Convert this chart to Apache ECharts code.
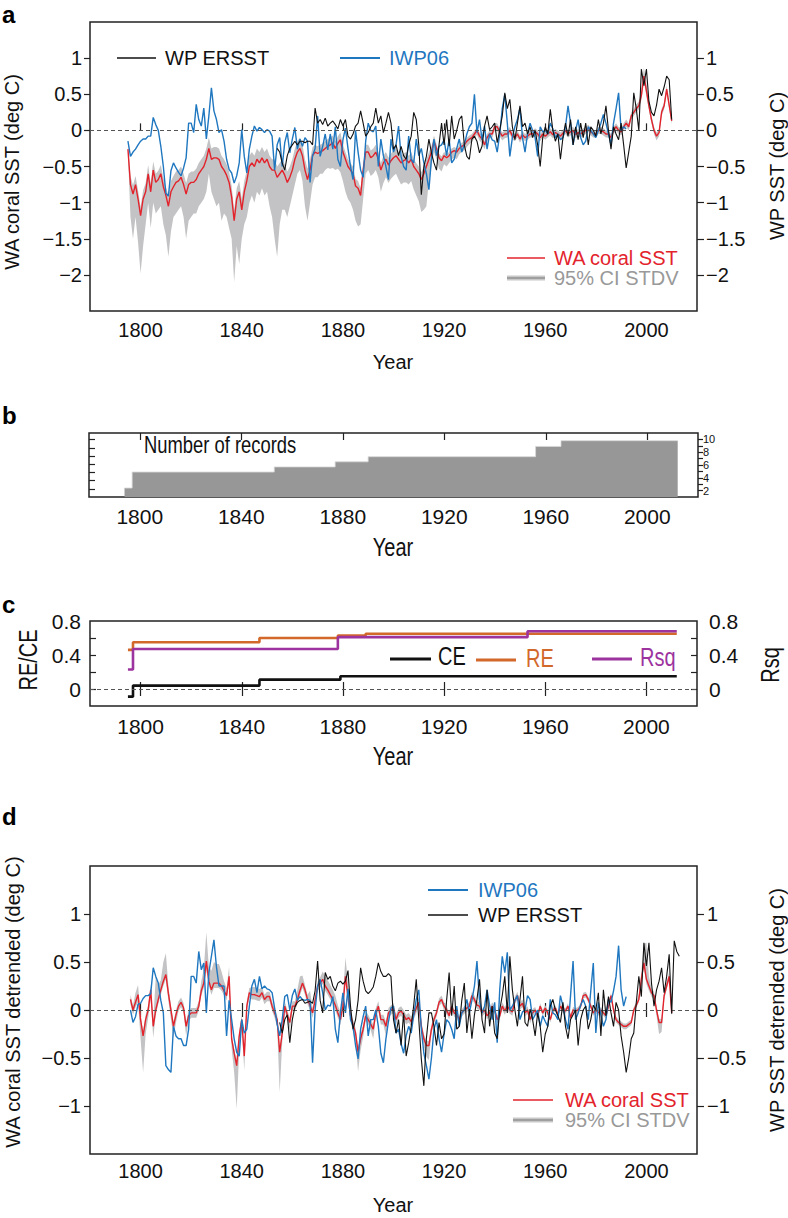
<!DOCTYPE html>
<html><head><meta charset="utf-8">
<script src="https://cdn.jsdelivr.net/npm/echarts@6/dist/echarts.min.js"></script>
<style>html,body{margin:0;padding:0;background:#fff}#c{width:788px;height:1218px}</style>
</head><body><div id="c"></div><script>
// ---------------- DATA ----------------
const yearTicks = [1800, 1840, 1880, 1920, 1960, 2000];

// Panel a: WA coral SST (annual, from 1795)
const coralAStart = 1795;
const coralA = [-0.26,-0.75,-0.88,-0.75,-0.95,-1.18,-0.95,-0.85,-0.6,-0.85,
-0.55,-0.72,-0.68,-0.6,-0.78,-0.9,-1.05,-0.85,-0.78,-0.72,
-0.7,-0.65,-0.75,-0.88,-0.75,-0.72,-0.72,-0.68,-0.6,-0.55,
-0.5,-0.4,-0.25,-0.4,-0.38,-0.38,-0.4,-0.5,-0.55,-0.62,
-0.72,-0.92,-1.25,-0.95,-0.85,-1.1,-0.85,-0.7,-0.5,-0.45,
-0.5,-0.4,-0.45,-0.38,-0.45,-0.4,-0.5,-0.55,-0.55,-0.65,
-0.6,-0.55,-0.62,-0.72,-0.65,-0.55,-0.4,-0.3,-0.25,-0.35,
-0.55,-0.68,-0.55,-0.35,-0.3,-0.32,-0.3,-0.28,-0.25,-0.22,
-0.2,-0.17,-0.25,-0.18,-0.13,-0.3,-0.4,-0.5,-0.55,-0.6,
-0.77,-0.8,-0.9,-0.55,-0.3,-0.3,-0.38,-0.35,-0.3,-0.4,
-0.55,-0.45,-0.4,-0.48,-0.42,-0.38,-0.35,-0.4,-0.45,-0.42,
-0.4,-0.45,-0.4,-0.5,-0.55,-0.6,-0.68,-0.6,-0.5,-0.4,
-0.3,-0.15,-0.25,-0.38,-0.42,-0.35,-0.38,-0.35,-0.3,-0.28,
-0.3,-0.25,-0.22,-0.2,-0.15,-0.12,-0.1,-0.05,0.0,-0.08,
-0.12,-0.2,-0.1,-0.05,-0.05,0.05,0.05,-0.02,-0.08,-0.05,
-0.05,0.0,-0.08,-0.1,-0.05,-0.12,-0.06,-0.1,-0.08,-0.05,
-0.05,-0.02,-0.05,-0.1,-0.05,-0.08,-0.05,-0.02,-0.06,-0.03,
-0.05,-0.08,-0.04,0.0,-0.05,-0.02,0.0,-0.06,-0.03,-0.05,
-0.02,0.0,0.03,-0.02,-0.05,-0.05,0.0,0.0,-0.02,-0.05,
-0.05,-0.1,0.0,0.05,0.0,-0.02,0.05,0.1,0.05,0.2,
0.25,0.3,0.34,0.48,0.75,0.55,0.34,0.15,0.0,-0.08,
-0.03,0.25,0.34,0.57,0.35,0.13];
// Panel a: 95% CI distance below / above the coral series
const ciBelowA = [0.05,0.45,0.62,0.45,0.6,0.8,0.65,0.45,0.4,0.5,
0.45,0.43,0.42,0.45,0.52,0.55,0.7,0.55,0.42,0.43,
0.4,0.4,0.45,0.62,0.5,0.48,0.43,0.47,0.45,0.45,
0.45,0.45,0.35,0.45,0.57,0.67,0.6,0.75,0.6,0.58,
0.63,0.58,0.85,0.65,1.0,0.4,0.45,0.5,0.5,0.45,
0.5,0.45,0.45,0.42,0.45,0.45,0.55,0.65,0.95,1.1,
0.7,0.55,0.48,0.48,0.4,0.35,0.35,0.3,0.3,0.35,
0.5,0.57,0.45,0.4,0.35,0.33,0.3,0.32,0.3,0.3,
0.33,0.35,0.3,0.35,0.45,0.4,0.45,0.45,0.45,0.5,
0.48,0.53,0.4,0.4,0.3,0.25,0.25,0.25,0.25,0.25,
0.3,0.28,0.25,0.25,0.25,0.25,0.25,0.28,0.3,0.3,
0.32,0.3,0.3,0.32,0.35,0.38,0.45,0.5,0.55,0.3,
0.2,0.15,0.15,0.15,0.15,0.12,0.12,0.1,0.1,0.1,
0.1,0.08,0.08,0.08,0.08,0.07,0.06,0.06,0.06,0.06,
0.06,0.06,0.06,0.06,0.06,0.06,0.06,0.06,0.06,0.06,
0.05,0.05,0.05,0.05,0.05,0.05,0.05,0.05,0.05,0.05,
0.05,0.05,0.05,0.05,0.05,0.05,0.05,0.05,0.05,0.05,
0.05,0.05,0.05,0.05,0.05,0.05,0.05,0.05,0.05,0.05,
0.05,0.05,0.05,0.05,0.05,0.05,0.05,0.05,0.05,0.05,
0.05,0.05,0.05,0.05,0.05,0.05,0.05,0.05,0.05,0.05,
0.05,0.05,0.05,0.06,0.08,0.08,0.06,0.05,0.05,0.06,
0.05,0.05,0.05,0.06,0.05,0.05];
const ciAboveA = [0.05,0.12,0.12,0.12,0.12,0.12,0.12,0.12,0.12,0.12,
0.12,0.12,0.12,0.12,0.12,0.12,0.15,0.15,0.15,0.15,
0.15,0.15,0.15,0.15,0.15,0.15,0.15,0.15,0.15,0.15,
0.15,0.15,0.15,0.15,0.15,0.15,0.15,0.15,0.15,0.15,
0.15,0.15,0.15,0.15,0.15,0.15,0.15,0.15,0.15,0.15,
0.15,0.15,0.15,0.15,0.15,0.15,0.15,0.15,0.15,0.15,
0.15,0.15,0.15,0.15,0.15,0.15,0.15,0.15,0.15,0.15,
0.15,0.15,0.15,0.12,0.1,0.1,0.1,0.1,0.1,0.1,
0.1,0.1,0.1,0.1,0.1,0.1,0.1,0.1,0.1,0.1,
0.1,0.1,0.1,0.1,0.1,0.1,0.1,0.1,0.1,0.1,
0.1,0.1,0.1,0.1,0.1,0.1,0.1,0.1,0.1,0.1,
0.1,0.1,0.1,0.1,0.1,0.1,0.1,0.1,0.1,0.1,
0.08,0.08,0.06,0.06,0.06,0.05,0.05,0.05,0.05,0.05,
0.05,0.05,0.05,0.05,0.05,0.05,0.05,0.05,0.05,0.05,
0.05,0.05,0.05,0.05,0.05,0.05,0.05,0.05,0.05,0.05,
0.05,0.05,0.05,0.05,0.05,0.05,0.05,0.05,0.05,0.05,
0.05,0.05,0.05,0.05,0.05,0.05,0.05,0.05,0.05,0.05,
0.05,0.05,0.05,0.05,0.05,0.05,0.05,0.05,0.05,0.05,
0.05,0.05,0.05,0.05,0.05,0.05,0.05,0.05,0.05,0.05,
0.05,0.05,0.05,0.05,0.05,0.05,0.05,0.05,0.05,0.05,
0.05,0.06,0.06,0.08,0.12,0.1,0.08,0.06,0.05,0.05,
0.05,0.05,0.05,0.05,0.05,0.05];
// Panel a: IWP06 (from 1795)
const iwpAStart = 1795;
const iwpA = [-0.15,-0.36,-0.3,-0.26,-0.2,-0.15,-0.12,-0.12,-0.08,-0.08,
0.18,0.08,0.0,-0.22,-0.5,-0.87,-0.91,-0.56,-0.45,-0.52,
-0.58,-0.63,-0.52,-0.38,0.1,0.1,-0.03,0.36,0.15,0.06,
0.31,-0.12,0.2,0.59,0.27,0.15,-0.03,0.01,-0.15,-0.4,
-0.54,-0.59,-0.73,-0.63,-0.45,0.01,-0.36,-0.59,-0.26,-0.08,
0.06,-0.01,0.04,0.01,-0.03,0.01,-0.01,-0.08,-0.55,-0.2,
-0.1,-0.5,-0.17,-0.03,-0.31,-0.12,0.04,-0.26,-0.12,-0.22,
-0.1,-0.15,-0.72,-0.35,-0.25,0.2,-0.36,-0.22,-0.05,-0.27,
-0.05,-0.26,0.05,-0.4,-0.5,-0.13,0.03,-0.25,-0.5,-0.68,
0.0,-0.3,-0.55,-0.65,-0.15,0.1,0.0,-0.02,0.06,-0.5,
-0.12,-0.35,-0.5,-0.68,-0.12,-0.3,-0.2,0.06,-0.36,-0.5,
-0.55,-0.08,-0.4,-0.45,-0.12,-0.35,-0.25,-0.45,-0.6,-0.82,
-0.4,-0.12,-0.35,-0.22,-0.2,-0.13,-0.35,-0.12,-0.45,-0.4,
-0.25,-0.12,-0.3,-0.2,-0.05,0.05,0.1,0.5,-0.03,0.15,
-0.13,0.06,-0.26,-0.05,-0.13,-0.15,-0.3,-0.05,0.3,0.5,
0.1,-0.36,-0.1,0.05,0.15,0.31,-0.1,-0.3,-0.05,0.1,
0.0,-0.1,-0.36,0.05,-0.02,0.0,-0.05,0.1,0.02,-0.1,
-0.05,-0.13,-0.1,0.05,0.34,0.1,-0.2,0.0,0.15,-0.1,
-0.2,-0.15,0.05,0.0,-0.05,-0.1,0.0,0.1,0.22,0.1,
-0.05,-0.2,0.1,0.3,0.52,0.0,0.05,0.02];
// Panel a: WP ERSST (from 1854)
const ersstAStart = 1854;
const ersstA = [-0.25,-0.3,-0.45,-0.55,-0.35,-0.25,-0.2,-0.15,-0.2,-0.15,
-0.15,-0.17,-0.15,-0.15,-0.2,0.31,0.1,0.15,0.08,0.17,
0.06,0.1,0.13,0.08,0.02,0.15,0.06,0.15,-0.08,-0.12,
-0.05,0.06,0.1,0.27,0.1,-0.08,-0.03,0.05,0.1,0.31,
0.1,0.2,-0.03,0.1,0.25,0.1,-0.26,-0.2,-0.35,-0.22,
-0.35,-0.4,-0.2,-0.08,0.25,0.15,-0.2,-0.89,-0.5,-0.36,
-0.12,-0.31,-0.45,-0.55,-0.2,0.1,-0.2,0.15,-0.22,0.2,
-0.12,0.0,0.15,0.2,-0.2,-0.36,-0.4,-0.12,-0.08,-0.15,
-0.31,-0.22,0.06,0.2,0.01,0.05,0.1,-0.17,0.0,0.2,
0.52,0.3,0.43,0.05,-0.13,0.1,0.34,0.05,0.1,-0.05,
0.05,-0.1,0.0,-0.2,-0.5,-0.1,0.05,-0.05,0.29,0.0,
-0.15,-0.05,-0.4,-0.1,0.1,-0.08,0.15,-0.2,0.05,-0.13,
0.1,-0.1,0.1,-0.2,0.05,0.0,-0.08,0.15,-0.05,0.1,
0.34,0.0,-0.26,0.05,-0.05,-0.13,0.1,-0.2,-0.52,-0.3,
-0.08,0.52,0.3,0.0,0.85,0.62,0.85,0.4,0.25,0.2,
0.35,0.57,0.48,0.6,0.75,0.7,0.15];

// Panel b: number of records (step changes)
const recordYears  = [1794, 1797, 1853, 1877, 1890, 1956, 1966, 2012];
const recordCounts = [2.4, 4.9, 5.7, 6.5, 7.3, 8.9, 9.8, 9.8];

// Panel c: verification statistics (step changes)
const ceYears  = [1795, 1797, 1847, 1879, 2012];
const ceVals   = [-0.09, 0.04, 0.11, 0.15, 0.15];
const reYears  = [1795, 1797, 1847, 1878, 1889, 2012];
const reVals   = [0.46, 0.55, 0.6, 0.63, 0.65, 0.65];
const rsqYears = [1795, 1797, 1878, 1953, 2012];
const rsqVals  = [0.23, 0.47, 0.61, 0.68, 0.68];

// Panel d: detrended series
const coralDStart = 1796;
const coralD = [0.11,0.0,0.08,0.16,-0.1,-0.27,-0.1,0.0,0.21,-0.17,
0.0,0.11,0.21,0.3,0.37,0.17,0.0,-0.17,-0.05,0.04,
0.08,0.02,-0.17,-0.06,-0.03,-0.03,-0.03,0.04,0.2,0.28,
0.51,0.3,0.21,0.28,0.28,0.28,0.25,0.2,0.15,0.35,
-0.3,-0.45,-0.58,-0.27,-0.1,-0.48,0.04,0.18,0.16,0.16,
0.15,0.14,0.18,0.11,0.14,0.14,0.04,-0.03,-0.1,-0.44,
-0.24,0.04,-0.05,-0.13,0.04,0.04,0.11,0.2,0.28,0.21,
0.11,0.05,-0.03,0.1,0.25,0.28,0.32,0.25,0.21,0.16,
0.11,0.05,-0.03,-0.1,0.04,0.35,0.14,-0.06,-0.15,-0.24,
-0.44,-0.3,-0.2,-0.06,-0.1,-0.15,-0.2,-0.03,0.04,-0.1,
-0.1,-0.17,-0.03,0.0,0.02,-0.1,-0.03,-0.01,-0.05,-0.1,
-0.08,-0.12,-0.05,0.02,0.08,-0.17,-0.3,-0.37,-0.37,-0.2,
-0.1,-0.03,0.08,0.11,0.04,0.0,-0.06,0.04,-0.03,-0.05,
-0.1,-0.03,0.0,0.02,0.04,0.15,0.11,0.05,0.04,-0.03,
0.0,-0.06,-0.03,0.04,0.0,-0.1,-0.06,0.04,-0.01,0.04,
0.0,-0.02,0.1,0.15,0.04,0.07,-0.03,0.0,-0.1,-0.03,
0.0,-0.06,0.04,-0.03,0.02,-0.03,-0.1,0.0,0.02,-0.05,
0.04,0.0,-0.01,0.04,-0.08,0.0,-0.01,0.0,0.04,0.15,
0.16,0.11,0.04,-0.03,0.0,-0.03,0.0,-0.03,-0.06,0.04,
0.15,0.0,-0.1,-0.13,-0.15,-0.17,-0.17,-0.15,-0.13,0.0,
0.05,0.11,0.32,0.49,0.32,0.25,0.18,0.15,0.0,-0.13,
-0.13,0.15,0.25,0.35,-0.03];
const ciBelowD = [0.05,0.05,0.05,0.08,0.2,0.38,0.15,0.08,0.1,0.12,
0.05,0.05,0.05,0.05,0.05,0.08,0.1,0.12,0.08,0.05,
0.05,0.05,0.1,0.06,0.05,0.05,0.05,0.05,0.05,0.05,
0.1,0.05,0.05,0.05,0.05,0.05,0.05,0.05,0.05,0.05,
0.1,0.2,0.45,0.15,0.1,0.15,0.05,0.05,0.05,0.05,
0.05,0.05,0.05,0.05,0.05,0.05,0.05,0.05,0.08,0.42,
0.1,0.05,0.05,0.08,0.05,0.05,0.05,0.05,0.05,0.05,
0.05,0.05,0.05,0.05,0.05,0.05,0.05,0.05,0.05,0.05,
0.05,0.05,0.05,0.06,0.05,0.05,0.05,0.05,0.08,0.1,
0.2,0.12,0.08,0.05,0.05,0.06,0.1,0.05,0.05,0.05,
0.05,0.1,0.05,0.05,0.05,0.05,0.05,0.05,0.05,0.05,
0.05,0.05,0.05,0.05,0.05,0.05,0.08,0.12,0.15,0.05,
0.04,0.04,0.04,0.04,0.04,0.04,0.04,0.04,0.04,0.04,
0.04,0.04,0.04,0.04,0.04,0.04,0.04,0.04,0.04,0.04,
0.04,0.04,0.04,0.04,0.04,0.04,0.04,0.04,0.04,0.04,
0.04,0.04,0.04,0.04,0.04,0.04,0.04,0.04,0.04,0.04,
0.03,0.03,0.03,0.03,0.03,0.03,0.03,0.03,0.03,0.03,
0.03,0.03,0.03,0.03,0.03,0.03,0.03,0.03,0.03,0.03,
0.03,0.03,0.03,0.03,0.03,0.03,0.03,0.03,0.03,0.03,
0.03,0.03,0.03,0.03,0.03,0.03,0.03,0.03,0.03,0.03,
0.03,0.03,0.04,0.05,0.05,0.05,0.04,0.04,0.06,0.12,
0.1,0.04,0.04,0.04,0.04];
const ciAboveD = [0.05,0.05,0.1,0.1,0.05,0.05,0.05,0.05,0.05,0.05,
0.35,0.15,0.1,0.2,0.22,0.08,0.05,0.05,0.05,0.05,
0.05,0.05,0.05,0.05,0.05,0.05,0.05,0.05,0.1,0.15,
0.3,0.15,0.2,0.22,0.2,0.2,0.15,0.1,0.08,0.1,
0.05,0.05,0.05,0.05,0.05,0.05,0.05,0.05,0.08,0.08,
0.08,0.08,0.06,0.05,0.05,0.05,0.05,0.05,0.05,0.05,
0.05,0.05,0.05,0.05,0.05,0.05,0.1,0.15,0.08,0.05,
0.05,0.15,0.05,0.05,0.05,0.06,0.08,0.1,0.1,0.1,
0.1,0.1,0.08,0.08,0.1,0.2,0.15,0.05,0.05,0.05,
0.05,0.05,0.05,0.05,0.05,0.05,0.05,0.05,0.05,0.05,
0.05,0.05,0.05,0.05,0.05,0.05,0.05,0.05,0.05,0.05,
0.05,0.05,0.05,0.05,0.05,0.05,0.05,0.05,0.05,0.05,
0.04,0.04,0.04,0.04,0.04,0.04,0.04,0.04,0.04,0.04,
0.04,0.04,0.04,0.04,0.04,0.04,0.04,0.04,0.04,0.04,
0.04,0.04,0.04,0.04,0.04,0.04,0.04,0.04,0.04,0.04,
0.04,0.04,0.04,0.04,0.04,0.04,0.04,0.04,0.04,0.04,
0.03,0.03,0.03,0.03,0.03,0.03,0.03,0.03,0.03,0.03,
0.03,0.03,0.03,0.03,0.03,0.03,0.03,0.03,0.03,0.03,
0.03,0.03,0.03,0.03,0.03,0.03,0.03,0.03,0.03,0.03,
0.03,0.03,0.03,0.03,0.03,0.03,0.03,0.03,0.03,0.03,
0.03,0.05,0.08,0.2,0.38,0.1,0.05,0.04,0.04,0.04,
0.04,0.04,0.04,0.05,0.04];
const iwpDStart = 1796;
const iwpD = [0.0,-0.13,-0.07,0.06,0.07,0.12,0.15,0.15,0.17,0.44,
0.35,0.28,0.1,-0.03,-0.58,-0.62,-0.65,-0.17,-0.27,-0.3,
-0.3,-0.37,-0.37,-0.2,0.35,0.35,0.28,0.61,0.42,0.49,
-0.03,0.39,0.56,0.73,0.45,0.25,0.25,0.25,-0.27,0.1,
-0.1,-0.3,-0.44,-0.48,-0.1,-0.24,-0.2,0.04,0.25,0.32,
0.18,0.35,0.22,0.25,0.22,0.21,0.18,0.02,-0.15,-0.27,
-0.1,0.14,0.16,0.0,0.15,0.22,0.1,0.14,0.11,0.1,
0.11,0.1,-0.55,0.0,0.25,0.32,0.18,0.0,0.05,0.04,
0.14,-0.2,-0.34,-0.03,0.18,-0.03,0.22,-0.1,-0.17,-0.37,
-0.51,-0.2,-0.07,0.04,-0.27,-0.1,-0.1,0.0,-0.17,-0.45,
-0.55,-0.3,-0.12,0.02,0.04,-0.24,-0.2,-0.35,-0.45,
-0.27,-0.17,-0.24,-0.05,0.11,0.21,-0.2,-0.45,-0.58,-0.72,
-0.5,-0.2,-0.1,-0.3,-0.44,-0.25,-0.1,-0.13,-0.2,-0.3,
0.04,-0.17,-0.03,0.0,0.11,-0.03,0.1,0.25,0.51,0.1,
-0.03,0.04,0.21,0.05,-0.1,0.08,-0.34,0.21,0.56,0.39,
0.6,0.0,0.04,0.1,0.15,-0.1,-0.02,0.0,0.15,0.11,
-0.1,-0.05,0.0,-0.17,-0.06,-0.12,-0.17,0.11,-0.03,-0.05,
-0.1,0.15,0.04,-0.1,-0.2,0.15,0.51,-0.1,-0.03,0.05,
0.11,0.04,-0.1,0.2,0.49,-0.24,0.08,-0.05,-0.17,-0.1,
0.11,0.08,0.2,0.35,0.67,0.21,0.04,0.14];
const ersstDStart = 1855;
const ersstD = [-0.13,-0.24,-0.1,-0.05,-0.34,-0.1,0.03,0.08,0.1,0.11,
0.07,0.08,0.09,0.07,0.2,0.51,0.1,-0.03,0.39,0.32,
0.35,0.25,0.2,0.28,0.3,0.27,0.3,0.41,0.04,-0.2,
-0.1,0.1,0.44,0.3,0.2,0.17,0.2,0.24,0.35,0.49,
0.4,0.35,0.35,0.38,0.35,-0.1,-0.24,-0.1,-0.37,-0.03,
-0.48,-0.34,-0.17,0.05,0.32,-0.1,-0.51,-0.79,-0.3,-0.03,
-0.03,-0.17,-0.37,-0.13,-0.3,-0.25,0.1,0.39,-0.06,0.25,
-0.2,-0.17,0.1,0.28,-0.24,0.01,-0.3,-0.05,0.11,0.32,
-0.1,-0.24,0.21,-0.17,0.04,-0.24,-0.3,0.0,0.15,0.35,
-0.03,0.56,0.21,0.0,-0.17,0.11,0.35,-0.13,-0.17,0.01,
-0.1,-0.27,-0.03,-0.17,-0.44,-0.25,-0.17,0.04,0.11,0.0,
-0.06,-0.13,0.08,-0.17,-0.3,-0.1,-0.05,0.0,-0.37,-0.1,
0.0,0.04,-0.2,-0.1,0.05,0.0,0.18,-0.27,0.21,-0.06,
0.14,-0.03,-0.17,0.08,0.0,-0.27,-0.44,-0.65,-0.5,-0.3,
-0.24,0.08,0.35,0.14,0.7,0.46,0.7,0.28,0.04,0.21,
0.3,0.44,0.18,0.35,0.58,-0.04,0.72,0.61,0.56];

// ---------------- STYLE ----------------
const RED = '#e3232c', BLUE = '#1f77c0', BLACK = '#111111', BAND = '#c3c3c5';
const ORANGE = '#d2682a', PURPLE = '#9c339e';
const F = '"Liberation Sans", Arial, Helvetica, sans-serif';
const AXC = '#222';
const NARROW = 0.8;

function pairs(start, arr) { return arr.map((v, i) => [start + i, v]); }
function zip(xs, ys) { return xs.map((x, i) => [x, ys[i]]); }
function fmt(v) {
  const r = Math.round(v * 100) / 100;
  if (r === 0) return '0';
  return r < 0 ? '\u2212' + Math.abs(r) : String(r);
}

function xAx(grid, pos, showLabels, size, margin) {
  return {
    type: 'value', gridIndex: grid, position: pos, min: 1780, max: 2020, interval: 20,
    axisLine: { show: false }, splitLine: { show: false },
    axisTick: { show: true, inside: true, length: 7, customValues: yearTicks, lineStyle: { color: AXC, width: 1.2 } },
    axisLabel: { show: showLabels, customValues: yearTicks, formatter: function (v) { return String(v); },
      margin: margin, fontSize: size, fontFamily: F, color: '#111' }
  };
}
function yAx(grid, pos, min, max, interval, tickVals, labelVals, inside, len, size, margin) {
  return {
    type: 'value', gridIndex: grid, position: pos, min: min, max: max, interval: interval,
    axisLine: { show: false }, splitLine: { show: false },
    axisTick: { show: true, inside: inside, length: len, customValues: tickVals, lineStyle: { color: AXC, width: 1.2 } },
    axisLabel: { show: labelVals.length > 0, customValues: labelVals, formatter: fmt, margin: margin,
      fontSize: size, lineHeight: size, fontFamily: F, color: '#111', showMinLabel: true, showMaxLabel: true, hideOverlap: false }
  };
}
function band(start, center, below, above, xi, yi) {
  return {
    type: 'custom', xAxisIndex: xi, yAxisIndex: yi, silent: true, z: 1,
    data: [[start, center[0]]],
    renderItem: function (params, api) {
      const up = [], lo = [];
      for (let i = 0; i < center.length; i++) {
        up.push(api.coord([start + i, center[i] + above[i]]));
        lo.push(api.coord([start + i, center[i] - below[i]]));
      }
      return { type: 'polygon', shape: { points: up.concat(lo.reverse()) }, style: { fill: BAND } };
    }
  };
}
function zeroLine(xi, yi) {
  return {
    type: 'line', xAxisIndex: xi, yAxisIndex: yi, data: [[1780, 0]], symbol: 'none', silent: true, z: 1,
    lineStyle: { width: 0 },
    markLine: { silent: true, symbol: 'none', label: { show: false }, animation: false,
      lineStyle: { type: [4, 3], color: '#555', width: 1 }, data: [{ yAxis: 0 }] }
  };
}
function ln(data, color, width, xi, yi, z, step) {
  const s = { type: 'line', xAxisIndex: xi, yAxisIndex: yi, data: data, symbol: 'none', showSymbol: false,
    lineStyle: { color: color, width: width }, z: z, silent: true };
  if (step) s.step = step;
  return s;
}
function txt(x, y, s, size, color, opts) {
  opts = opts || {};
  return { type: 'text', x: x, y: y, rotation: opts.rot || 0, scaleX: opts.sx || 1, silent: true,
    style: { text: s, fill: color, font: (opts.bold ? 'bold ' : '') + size + 'px ' + F,
      textAlign: opts.align || 'left', textVerticalAlign: 'middle', align: opts.align || 'left', verticalAlign: 'middle' } };
}
function seg(x1, y1, x2, y2, color, w) {
  return { type: 'line', silent: true, shape: { x1: x1, y1: y1, x2: x2, y2: y2 }, style: { stroke: color, lineWidth: w } };
}

const gridStyle = { show: true, borderColor: AXC, borderWidth: 1.5, backgroundColor: 'transparent' };
const option = {
  animation: false,
  grid: [
    Object.assign({ left: 90, top: 22, width: 607, height: 289 }, gridStyle),
    Object.assign({ left: 89, top: 433, width: 609, height: 64 }, gridStyle),
    Object.assign({ left: 90, top: 621, width: 607, height: 85 }, gridStyle),
    Object.assign({ left: 90, top: 866, width: 607, height: 288 }, gridStyle)
  ],
  xAxis: [
    xAx(0, 'bottom', true, 20, 9),
    xAx(1, 'bottom', true, 21, 9),
    xAx(1, 'top', false, 21, 7),
    xAx(2, 'bottom', true, 21, 10),
    xAx(2, 'top', false, 21, 8),
    xAx(3, 'bottom', true, 20, 7),
    xAx(3, 'top', false, 20, 7)
  ],
  yAxis: [
    yAx(0, 'left', -2.5, 1.5, 0.5, [-2,-1.5,-1,-0.5,0,0.5,1], [-2,-1.5,-1,-0.5,0,0.5,1], false, 6, 20, 8),
    yAx(0, 'right', -2.5, 1.5, 0.5, [-2,-1.5,-1,-0.5,0,0.5,1], [-2,-1.5,-1,-0.5,0,0.5,1], false, 7, 20, 9),
    yAx(1, 'left', 0, 7.8, 1, [1,2,3,4,5,6,7], [], true, 6, 12, 5),
    yAx(1, 'right', 1, 11, 1, [2,3,4,5,6,7,8,9,10], [2,4,6,8,10], false, 5, 11, 5),
    yAx(2, 'left', -0.2, 0.8, 0.2, [0,0.2,0.4,0.6], [0,0.4,0.8], true, 6, 21, 9),
    yAx(2, 'right', -0.2, 0.8, 0.2, [0,0.2,0.4,0.6], [0,0.4,0.8], true, 6, 21, 12),
    yAx(3, 'left', -1.5, 1.5, 0.5, [-1,-0.5,0,0.5,1], [-1,-0.5,0,0.5,1], false, 6, 20, 9),
    yAx(3, 'right', -1.5, 1.5, 0.5, [-1,-0.5,0,0.5,1], [-1,-0.5,0,0.5,1], false, 7, 20, 10)
  ],
  series: [
    // panel a
    band(coralAStart, coralA, ciBelowA, ciAboveA, 0, 0),
    zeroLine(0, 0),
    ln(pairs(coralAStart, coralA), RED, 1.4, 0, 0, 3),
    ln(pairs(iwpAStart, iwpA), BLUE, 1.4, 0, 0, 4),
    ln(pairs(ersstAStart, ersstA), BLACK, 1.1, 0, 0, 5),
    // panel b
    { type: 'line', xAxisIndex: 1, yAxisIndex: 3, step: 'end', data: zip(recordYears, recordCounts),
      symbol: 'none', silent: true, lineStyle: { width: 0.8, color: '#d8d8d8' }, areaStyle: { color: '#979797', opacity: 1 } },
    // panel c
    zeroLine(3, 4),
    ln(zip(ceYears, ceVals), BLACK, 2.6, 3, 4, 3, 'end'),
    ln(zip(reYears, reVals), ORANGE, 2.6, 3, 4, 3, 'end'),
    ln(zip(rsqYears, rsqVals), PURPLE, 2.6, 3, 4, 4, 'end'),
    // panel d
    band(coralDStart, coralD, ciBelowD, ciAboveD, 5, 6),
    zeroLine(5, 6),
    ln(pairs(coralDStart, coralD), RED, 1.4, 5, 6, 3),
    ln(pairs(iwpDStart, iwpD), BLUE, 1.4, 5, 6, 4),
    ln(pairs(ersstDStart, ersstD), BLACK, 1.1, 5, 6, 5)
  ],
  graphic: { elements: [
    // panel letters
    txt(2, 14, 'a', 24, '#000', { bold: true }),
    txt(2, 415, 'b', 24, '#000', { bold: true }),
    txt(2, 604, 'c', 24, '#000', { bold: true }),
    txt(2, 816, 'd', 24, '#000', { bold: true }),
    // panel a titles
    txt(12, 172, 'WA coral SST (deg C)', 20, '#111', { align: 'center', rot: Math.PI / 2 }),
    txt(777, 166, 'WP SST (deg C)', 20, '#111', { align: 'center', rot: Math.PI / 2 }),
    txt(393, 362, 'Year', 20, '#111', { align: 'center' }),
    // panel a legends
    seg(117, 58, 156, 58, BLACK, 1.5), txt(165, 58, 'WP ERSST', 20, '#111'),
    seg(340, 58, 380, 58, BLUE, 1.8), txt(389, 58, 'IWP06', 20, BLUE),
    seg(507, 258, 545, 258, RED, 1.5), txt(554, 258, 'WA coral SST', 20, RED),
    seg(507, 278, 545, 278, '#c8c8c8', 5), seg(507, 278, 545, 278, '#777', 1), txt(554, 278, '95% CI STDV', 20, '#999'),
    // panel b
    txt(144, 445, 'Number of records', 23, '#111', { sx: NARROW }),
    txt(393, 548, 'Year', 25, '#111', { align: 'center', sx: NARROW }),
    // panel c
    txt(29, 660, 'RE/CE', 25, '#111', { align: 'center', rot: Math.PI / 2, sx: NARROW }),
    txt(771, 665, 'Rsq', 25, '#111', { align: 'center', rot: Math.PI / 2, sx: NARROW }),
    txt(393, 757, 'Year', 25, '#111', { align: 'center', sx: NARROW }),
    seg(390, 659, 431, 659, BLACK, 3), txt(438, 657, 'CE', 25, '#111', { sx: NARROW }),
    seg(476, 660, 516, 660, ORANGE, 3), txt(526, 659, 'RE', 25, ORANGE, { sx: NARROW }),
    seg(592, 659, 632, 659, PURPLE, 3), txt(640, 658, 'Rsq', 25, PURPLE, { sx: NARROW }),
    // panel d titles
    txt(13, 1002, 'WA coral SST detrended (deg C)', 20, '#111', { align: 'center', rot: Math.PI / 2 }),
    txt(777, 1010, 'WP SST detrended (deg C)', 20, '#111', { align: 'center', rot: Math.PI / 2 }),
    txt(393, 1205, 'Year', 20, '#111', { align: 'center' }),
    // panel d legends
    seg(428, 890, 468, 890, BLUE, 1.8), txt(478, 890, 'IWP06', 20, BLUE),
    seg(428, 915, 468, 915, BLACK, 1.5), txt(478, 915, 'WP ERSST', 20, '#111'),
    seg(513, 1100, 553, 1100, RED, 1.5), txt(565, 1100, 'WA coral SST', 20, RED),
    seg(513, 1120, 553, 1120, '#c8c8c8', 5), seg(513, 1120, 553, 1120, '#777', 1), txt(565, 1120, '95% CI STDV', 20, '#999')
  ] }
};
const chart = echarts.init(document.getElementById('c'), null, { renderer: 'svg', width: 788, height: 1218 });
chart.setOption(option);
</script></body></html>
